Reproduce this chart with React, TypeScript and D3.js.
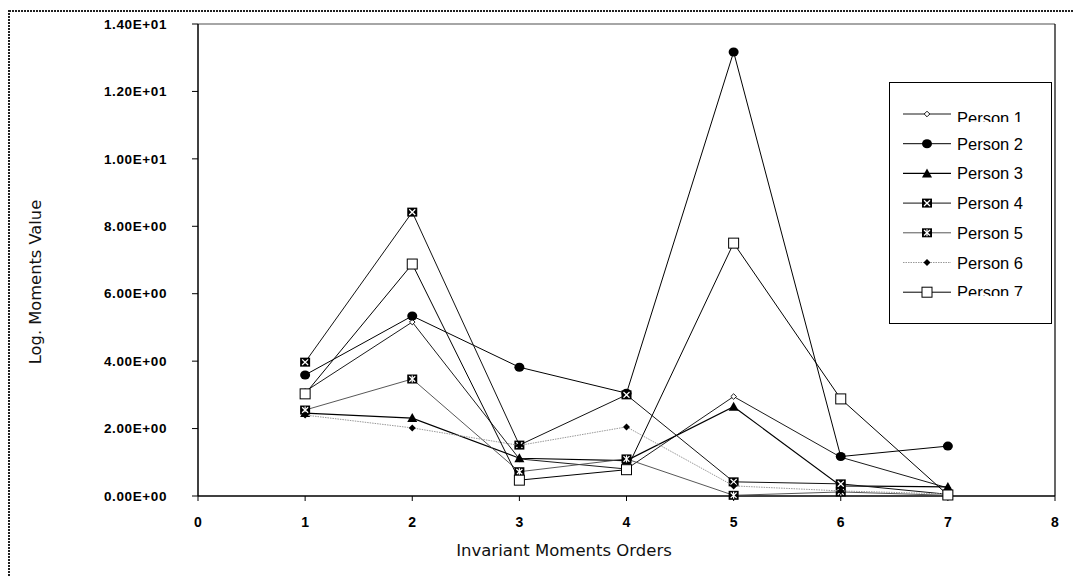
import * as d3 from "d3"

// invariant moment orders (x) and log moment values per person (y)
const orders = [1, 2, 3, 4, 5, 6, 7]
const person1 = [3.1, 5.16, 1.1, 0.8, 2.95, 1.15, 0.24]
const person2 = [3.59, 5.34, 3.82, 3.05, 13.17, 1.17, 1.48]
const person3 = [2.46, 2.31, 1.12, 1.05, 2.65, 0.3, 0.27]
const person4 = [3.97, 8.42, 1.51, 3.0, 0.42, 0.36, 0.05]
const person5 = [2.55, 3.47, 0.72, 1.1, 0.02, 0.12, 0.02]
const person6 = [2.4, 2.02, 1.5, 2.05, 0.3, 0.15, 0.06]
const person7 = [3.03, 6.88, 0.47, 0.78, 7.5, 2.88, 0.03]

const seriesNames = ["Person 1", "Person 2", "Person 3", "Person 4", "Person 5", "Person 6", "Person 7"]
const xTicks = [0, 1, 2, 3, 4, 5, 6, 7, 8]
const yTicks = [0, 2, 4, 6, 8, 10, 12, 14]

type MarkerKind = "openDiamond" | "circle" | "triangle" | "xBox" | "starBox" | "diamond" | "openSquare"

const styles: { marker: MarkerKind; stroke: string; width: number; dash?: string }[] = [
  { marker: "openDiamond", stroke: "#000", width: 0.9 },
  { marker: "circle", stroke: "#000", width: 1 },
  { marker: "triangle", stroke: "#000", width: 1.2 },
  { marker: "xBox", stroke: "#111", width: 1 },
  { marker: "starBox", stroke: "#444", width: 0.9 },
  { marker: "diamond", stroke: "#999", width: 1, dash: "1.5 1" },
  { marker: "openSquare", stroke: "#000", width: 1 },
]

// format like Excel scientific: 1.40E+01
function sci(v: number): string {
  if (v === 0) return "0.00E+00"
  const e = Math.floor(Math.log10(Math.abs(v)))
  const m = v / Math.pow(10, e)
  const ab = Math.abs(e)
  return `${m.toFixed(2)}E${e >= 0 ? "+" : "-"}${ab < 10 ? "0" + ab : ab}`
}

function Marker({ kind, x, y }: { kind: MarkerKind; x: number; y: number }) {
  switch (kind) {
    case "openDiamond":
      return <path d={`M${x},${y - 2.8}L${x + 2.8},${y}L${x},${y + 2.8}L${x - 2.8},${y}Z`} fill="#fff" stroke="#000" strokeWidth={0.9} />
    case "circle":
      return <ellipse cx={x} cy={y} rx={5} ry={4.5} fill="#000" />
    case "triangle":
      return <path d={`M${x},${y - 5}L${x + 5},${y + 4}L${x - 5},${y + 4}Z`} fill="#000" />
    case "xBox":
    case "starBox":
      return (
        <g>
          <rect x={x - 5} y={y - 4.5} width={10} height={9} fill="#000" />
          <path d={`M${x - 3},${y - 2.8}L${x + 3},${y + 2.8}M${x + 3},${y - 2.8}L${x - 3},${y + 2.8}`} stroke="#fff" strokeWidth={1.3} />
          {kind === "starBox" && <path d={`M${x},${y - 3.5}L${x},${y + 3.5}`} stroke="#fff" strokeWidth={1.2} />}
        </g>
      )
    case "diamond":
      return <path d={`M${x},${y - 3.5}L${x + 3.5},${y}L${x},${y + 3.5}L${x - 3.5},${y}Z`} fill="#000" />
    case "openSquare":
      return <rect x={x - 5} y={y - 5} width={10} height={10} fill="#fff" stroke="#000" strokeWidth={1} />
  }
}

export default function App() {
  const width = 1074
  const height = 577
  const left = 198
  const right = 1055
  const top = 24
  const bottom = 496

  const x = d3.scaleLinear().domain([0, 8]).range([left, right])
  const y = d3.scaleLinear().domain([0, 14]).range([bottom, top])

  const allSeries = [person1, person2, person3, person4, person5, person6, person7]
  const line = d3
    .line<number>()
    .x((_, i) => x(orders[i]))
    .y((d) => y(d))

  const legend = { x: 889, y: 82, w: 162, h: 241, row0: 114, step: 29.7 }

  return (
    <svg width={width} height={height} style={{ position: "absolute", left: 0, top: 0, background: "#fff" }}>
      <defs>
        <clipPath id="clip-first">
          <rect x={950} y={100} width={100} height={22} />
        </clipPath>
        <clipPath id="clip-last">
          <rect x={950} y={280} width={100} height={16} />
        </clipPath>
      </defs>

      {/* dotted chart-area border */}
      <rect x={9} y={11} width={1100} height={600} fill="none" stroke="#222" strokeWidth={2} strokeDasharray="2 1" />

      {/* plot frame */}
      <line x1={left} x2={right} y1={top} y2={top} stroke="#888" strokeWidth={1.5} />
      <line x1={right} x2={right} y1={top} y2={bottom} stroke="#000" strokeWidth={1.2} />
      <line x1={left} x2={left} y1={top} y2={bottom} stroke="#000" strokeWidth={1.5} />
      <line x1={left} x2={right} y1={bottom} y2={bottom} stroke="#000" strokeWidth={1.5} />

      {/* y axis */}
      {yTicks.map((t) => (
        <g key={t}>
          <line x1={left - 6} x2={left} y1={y(t)} y2={y(t)} stroke="#000" />
          <text
            x={167}
            y={y(t)}
            dy="0.35em"
            textAnchor="end"
            fontFamily="Liberation Sans, Arial, sans-serif"
            fontWeight="bold"
            fontSize={13.5}
            letterSpacing={0.6}
          >
            {sci(t)}
          </text>
        </g>
      ))}

      {/* x axis */}
      {xTicks.map((t) => (
        <g key={t}>
          <line x1={x(t)} x2={x(t)} y1={bottom} y2={bottom + 5} stroke="#000" />
          <text
            x={x(t)}
            y={522}
            dy="0.35em"
            textAnchor="middle"
            fontFamily="Liberation Sans, Arial, sans-serif"
            fontWeight="bold"
            fontSize={14}
          >
            {t}
          </text>
        </g>
      ))}

      <text x={564} y={556} textAnchor="middle" fontFamily="DejaVu Sans, sans-serif" fontSize={16.5} fill="#111">
        Invariant Moments Orders
      </text>
      <text
        transform="translate(41,282) rotate(-90)"
        textAnchor="middle"
        fontFamily="DejaVu Sans, sans-serif"
        fontSize={16.3}
        fill="#111"
      >
        Log. Moments Value
      </text>

      {/* series */}
      {allSeries.map((s, si) => (
        <g key={seriesNames[si]}>
          <path
            d={line(s) || ""}
            fill="none"
            stroke={styles[si].stroke}
            strokeWidth={styles[si].width}
            strokeDasharray={styles[si].dash}
          />
          {s.map((v, i) => (
            <Marker key={i} kind={styles[si].marker} x={x(orders[i])} y={y(v)} />
          ))}
        </g>
      ))}

      {/* legend */}
      <rect x={legend.x + 0.5} y={legend.y + 0.5} width={legend.w} height={legend.h} fill="#fff" stroke="#000" strokeWidth={1} />
      {seriesNames.map((name, i) => {
        const ry = legend.row0 + i * legend.step
        const first = i === 0
        const clip = first ? "url(#clip-first)" : i === seriesNames.length - 1 ? "url(#clip-last)" : undefined
        return (
          <g key={name}>
            <line
              x1={903}
              x2={951}
              y1={ry}
              y2={ry}
              stroke={styles[i].stroke}
              strokeWidth={styles[i].width}
              strokeDasharray={styles[i].dash}
            />
            <Marker kind={styles[i].marker} x={927} y={ry} />
            <text x={957} y={ry + (first ? 10 : 6)} fontFamily="Liberation Sans, Arial, sans-serif" fontSize={16.5} clipPath={clip}>
              {name}
            </text>
          </g>
        )
      })}
    </svg>
  )
}
